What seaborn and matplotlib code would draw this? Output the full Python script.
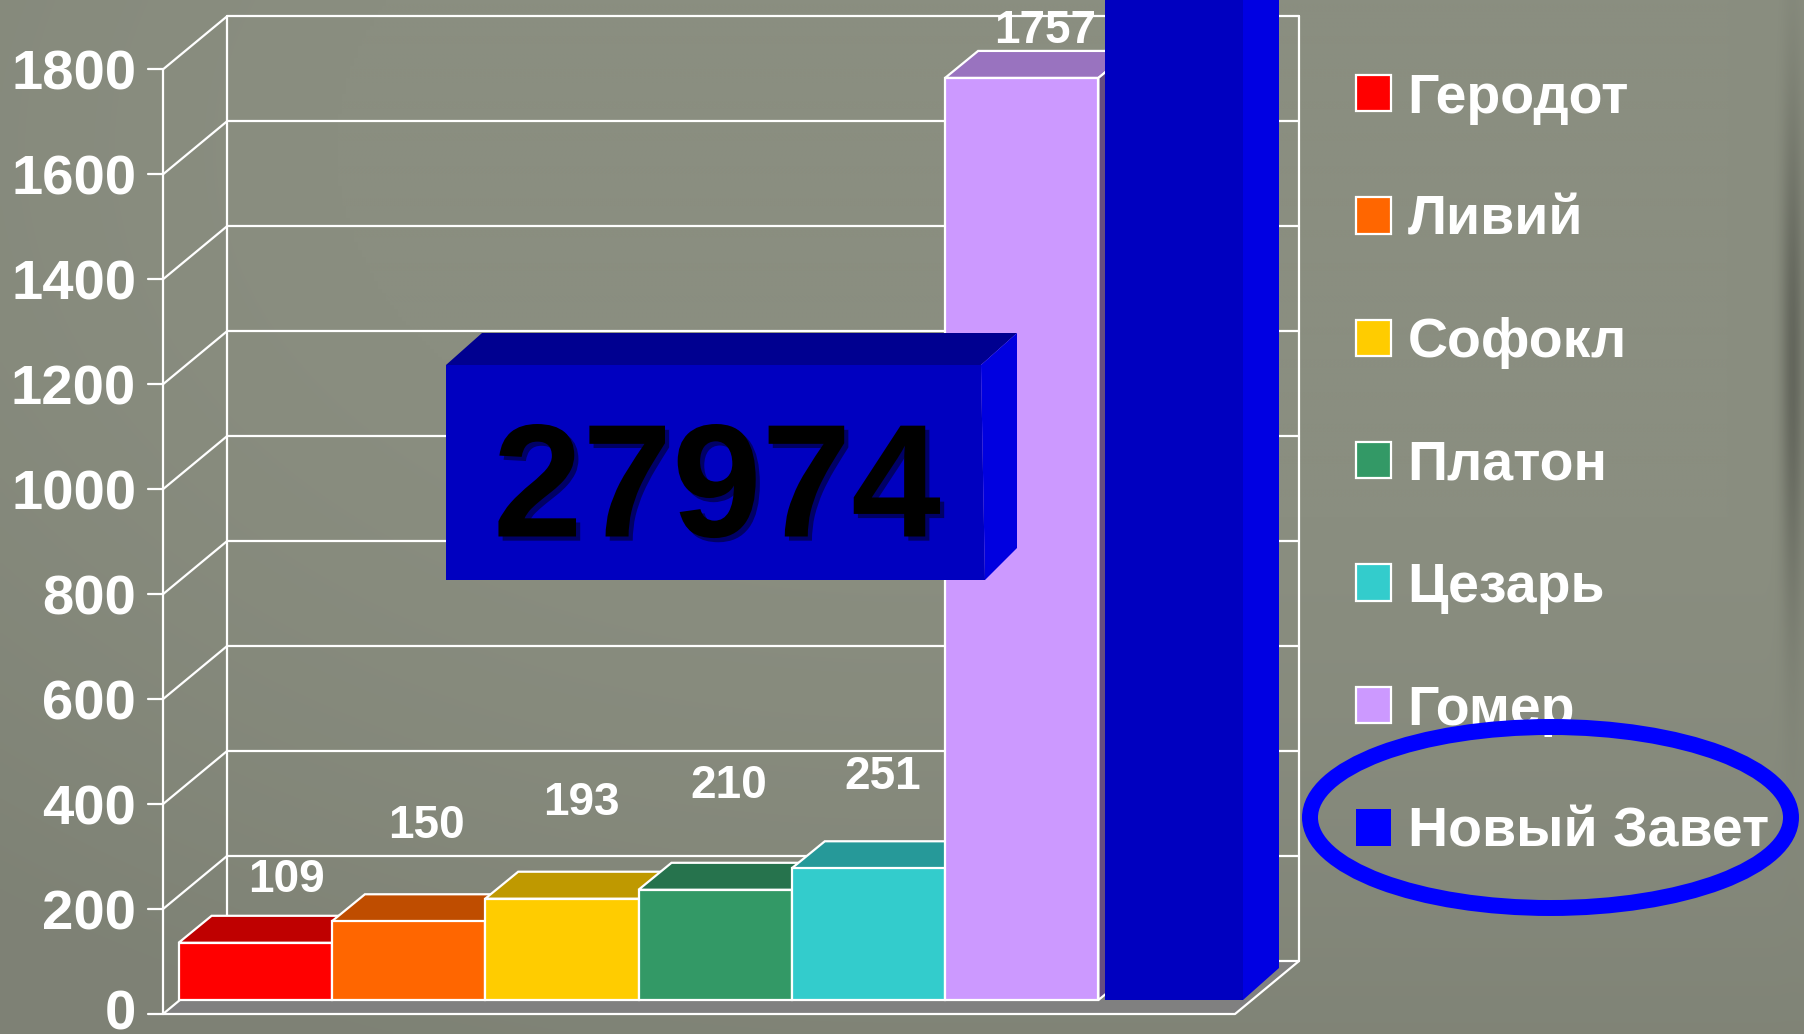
import numpy as np
import seaborn as sns
import matplotlib
matplotlib.use('Agg')
import matplotlib.pyplot as plt
import matplotlib.patheffects as pe
from matplotlib.patches import Patch, Polygon, Ellipse, Rectangle
from matplotlib.colors import to_rgb

# Chart data
authors = ['Геродот', 'Ливий', 'Софокл', 'Платон', 'Цезарь', 'Гомер', 'Новый Завет']
manuscripts = [109, 150, 193, 210, 251, 1757, 27974]
bar_colors = ['#FF0000', '#FF6600', '#FFCC00', '#339966', '#33CCCC', '#CC99FF', '#0000FF']
y_ticks = [0, 200, 400, 600, 800, 1000, 1200, 1400, 1600, 1800]
callout_text = '27974'

# Value label positions on the slide, in pixels
label_px = [(286, 875), (426, 821), (581, 798), (729, 781), (883, 772), (1045, 26)]

W, H = 1804, 1034
X_UNIT, Y_UNIT = 153.3, 0.5248
X_ZERO, Y_ZERO = 255.25, 1000


# pixel position on the slide -> data coordinates of the chart axes
def dx(px):
    return (px - X_ZERO) / X_UNIT


def dy(py):
    return (Y_ZERO - py) / Y_UNIT


sns.set_style('white')
plt.rcParams['font.family'] = ['Liberation Sans', 'DejaVu Sans']
plt.rcParams['font.weight'] = 'bold'

fig = plt.figure(figsize=(W / 100, H / 100), dpi=100)

# Background: worn grey-green slide, darker to the left and bottom
bg_ax = fig.add_axes([0, 0, 1, 1])
gx, gy = np.meshgrid(np.linspace(-1, 1, 451), np.linspace(-1, 1, 259))
shade = 1 - 0.085 * np.clip(0.5 * gy + 0.35 * gy ** 2 + 0.45 * np.clip(-gx, 0, 1) ** 2, 0, 1)
smudge = 0.28 * np.exp(-((gx - 0.99) / 0.012) ** 2) * np.exp(-((gy + 0.3) / 0.5) ** 2)
shade = shade - smudge
bg = np.dstack([shade * 138 / 255, shade * 142 / 255, shade * 128 / 255])
bg_ax.imshow(bg, aspect='auto', interpolation='bilinear')
bg_ax.axis('off')

ax = fig.add_axes([0, 0, 1, 1], facecolor='none')

LINE_W = 1.6
WHITE = dict(color='white', lw=LINE_W)
FRONT_Y, BACK_Y = 1014, 961
LEFT_F, LEFT_B, RIGHT_F, RIGHT_B = 163, 227, 1235, 1299

# Floor
ax.add_patch(Polygon([(dx(LEFT_F), dy(FRONT_Y)), (dx(RIGHT_F), dy(FRONT_Y)),
                      (dx(RIGHT_B), dy(BACK_Y)), (dx(LEFT_B), dy(BACK_Y))],
                     facecolor='#808080', edgecolor='none', zorder=1))

# Walls and grid
for t in y_ticks:
    yb = dy(BACK_Y) + t
    yf = dy(FRONT_Y) + t
    ax.plot([dx(LEFT_B), dx(RIGHT_B)], [yb, yb], zorder=1.5, **WHITE)
    ax.plot([dx(LEFT_F), dx(LEFT_B)], [yf, yb], zorder=1.5, **WHITE)
    ax.plot([dx(148), dx(LEFT_F)], [yf, yf], zorder=1.5, **WHITE)
    # the zero sits right on the bottom edge, so it is lifted a little
    nudge = 5 / Y_UNIT if t == 0 else 0
    ax.text(dx(136), yf + nudge, str(t), color='white', fontsize=40.5, fontweight='bold',
            ha='right', va='center_baseline', zorder=8)

top_val = y_ticks[-1]
ax.plot([dx(LEFT_F)] * 2, [dy(FRONT_Y), dy(FRONT_Y) + top_val], zorder=1.5, **WHITE)
ax.plot([dx(LEFT_B)] * 2, [dy(BACK_Y), dy(BACK_Y) + top_val], zorder=1.5, **WHITE)
ax.plot([dx(RIGHT_B)] * 2, [dy(BACK_Y), dy(BACK_Y) + top_val], zorder=1.5, **WHITE)
ax.plot([dx(LEFT_F), dx(RIGHT_F), dx(RIGHT_B)],
        [dy(FRONT_Y), dy(FRONT_Y), dy(BACK_Y)], zorder=1.5, **WHITE)

# Front faces of the bars
sns.barplot(x=authors, y=manuscripts, hue=authors, palette=bar_colors, order=authors,
            hue_order=authors, width=1, saturation=1, edgecolor='white', linewidth=LINE_W,
            legend=False, ax=ax, zorder=4)
ax.set_xlim(dx(0), dx(W))
ax.set_ylim(dy(H), dy(0))
ax.axis('off')

# Tops and sides of the bars, each bar over the one before it
bars = list(ax.patches)
bars = [b for b in bars if isinstance(b, Rectangle) and b.get_height() > 0 and b.get_width() == 1]
bars.sort(key=lambda b: b.get_x())
for i, (bar, val, col) in enumerate(zip(bars, manuscripts, bar_colors)):
    depth_x, depth_y = 33 / X_UNIT, 27 / Y_UNIT
    base = np.array(to_rgb(col))
    side_col = base * 0.5
    edge = 'white'
    if i == len(bars) - 1:
        # the New Testament bar stands apart and has no outline
        bar.set_x(dx(1105))
        bar.set_width(138 / X_UNIT)
        bar.set_facecolor('#0000C0')
        bar.set_edgecolor('none')
        depth_x, depth_y = 36 / X_UNIT, 32 / Y_UNIT
        side_col = '#0000E2'
        edge = 'none'
    bar.set_zorder(4 + i * 0.1 + 0.05)
    x0, x1 = bar.get_x(), bar.get_x() + bar.get_width()
    ax.add_patch(Polygon([(x0, val), (x1, val), (x1 + depth_x, val + depth_y), (x0 + depth_x, val + depth_y)],
                         facecolor=base * 0.75, edgecolor=edge, lw=LINE_W, zorder=4 + i * 0.1))
    ax.add_patch(Polygon([(x1, 0), (x1 + depth_x, depth_y), (x1 + depth_x, val + depth_y), (x1, val)],
                         facecolor=side_col, edgecolor=edge, lw=LINE_W, zorder=4 + i * 0.1))

# Value labels
for (lx, ly), val in zip(label_px, manuscripts):
    ax.text(dx(lx), dy(ly), str(val), color='white', fontsize=33, fontweight='bold',
            ha='center', va='center_baseline', zorder=9)

# Callout box with the New Testament count
bx0, bx1, by0, by1 = 446, 981, 365, 580
off_x, off_y = 36, 32
ax.add_patch(Polygon([(dx(bx0), dy(by0)), (dx(bx0 + off_x), dy(by0 - off_y)),
                      (dx(bx1 + off_x), dy(by0 - off_y)), (dx(bx1), dy(by0))],
                     facecolor='#000090', edgecolor='none', zorder=10))
ax.add_patch(Polygon([(dx(bx1), dy(by0)), (dx(bx1 + off_x), dy(by0 - off_y)),
                      (dx(bx1 + off_x), dy(by1 - off_y)), (dx(bx1 + 4), dy(by1))],
                     facecolor='#0000E0', edgecolor='none', zorder=10))
ax.add_patch(Polygon([(dx(bx0), dy(by0)), (dx(bx1), dy(by0)), (dx(bx1 + 4), dy(by1)), (dx(bx0), dy(by1))],
                     facecolor='#0000C0', edgecolor='none', zorder=10))
ax.text(dx(717), dy(478), callout_text, color='black', fontsize=116, fontweight='bold',
        ha='center', va='center_baseline', zorder=12,
        path_effects=[pe.withSimplePatchShadow(offset=(3, -3), shadow_rgbFace='#000040', alpha=0.7)])

# Legend
handles = [Patch(facecolor=c, edgecolor='white' if c != '#0000FF' else 'none', linewidth=LINE_W)
           for c in bar_colors]
leg = ax.legend(handles, authors, loc='upper left', bbox_to_anchor=(1356 / W, 1 - 72.6 / H),
                bbox_transform=fig.transFigure, frameon=False, borderpad=0,
                borderaxespad=0, handlelength=0.63, handleheight=0.63, handletextpad=0.3,
                labelspacing=1.267, prop=dict(family='Liberation Sans', weight='bold', size=40))
for txt in leg.get_texts():
    txt.set_color('white')
leg.set_zorder(13)

# Circle round the New Testament entry
ax.add_patch(Ellipse((dx(1550.5), dy(817.5)), 481 / X_UNIT, 181 / Y_UNIT, facecolor='none',
                     edgecolor='#0000FF', lw=11.5, zorder=14))

plt.savefig('out.png', dpi=100)
